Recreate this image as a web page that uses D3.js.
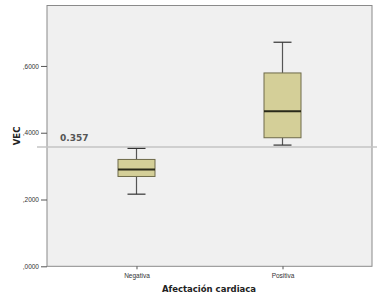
<!DOCTYPE html>
<html><head><meta charset="utf-8">
<script src="https://cdn.jsdelivr.net/npm/d3@7"></script>
<style>body{margin:0;background:#fff}svg{display:block}</style>
</head><body>
<svg id="c" width="379" height="304"></svg>
<script>
const categories = ["Negativa", "Positiva"];
const whiskerLow = [0.216, 0.363];
const q1 = [0.269, 0.385];
const median = [0.290, 0.464];
const q3 = [0.320, 0.579];
const whiskerHigh = [0.353, 0.671];
const yTicks = [0, 0.2, 0.4, 0.6];
const refValue = 0.357;
const refLabel = "0.357";
const xTitle = "Afectación cardiaca";
const yTitle = "VEC";

const L = 47, R = 372, T = 5.5, B = 266.3;
const svg = d3.select("#c");
const x = d3.scalePoint().domain(categories).range([L, R]).padding(0.613);
const y = d3.scaleLinear().domain([0, 0.781]).range([B, T]);

svg.append("rect").attr("x", L).attr("y", T).attr("width", R - L).attr("height", B - T)
  .attr("fill", "#f0f0f0").attr("stroke", "#8a8a8a").attr("stroke-width", 1);

// reference line
svg.append("line").attr("x1", 37).attr("x2", 377).attr("y1", y(refValue)).attr("y2", y(refValue))
  .attr("stroke", "#c4c4c4").attr("stroke-width", 1.5);
svg.append("text").attr("x", 60).attr("y", y(refValue) - 6).text(refLabel)
  .attr("font-family", "DejaVu Sans, sans-serif").attr("font-size", 9).attr("font-weight", "bold").attr("fill", "#555");

// y axis
const ya = svg.append("g").attr("transform", `translate(${L},0)`)
  .call(d3.axisLeft(y).tickValues(yTicks).tickSize(6).tickFormat(d => "," + d3.format(".4f")(d).split(".")[1]));
ya.select(".domain").remove();
ya.selectAll("line").attr("stroke", "#555");
ya.selectAll("text").attr("font-family", "Liberation Sans, Arial, sans-serif").attr("font-size", 6.5).attr("fill", "#333").attr("dx", 1);

// x axis
const xa = svg.append("g").attr("transform", `translate(0,${B})`)
  .call(d3.axisBottom(x).tickSize(3));
xa.select(".domain").remove();
xa.selectAll("line").attr("stroke", "#555");
xa.selectAll("text").attr("font-family", "Liberation Sans, Arial, sans-serif").attr("font-size", 6.5).attr("fill", "#333").attr("dy", "0.85em");

// boxes
const bw = 37, cw = 18;
categories.forEach((c, i) => {
  const cx = x(c);
  const g = svg.append("g");
  g.append("line").attr("x1", cx).attr("x2", cx).attr("y1", y(whiskerHigh[i])).attr("y2", y(q3[i])).attr("stroke", "#555").attr("stroke-width", 1.2);
  g.append("line").attr("x1", cx).attr("x2", cx).attr("y1", y(q1[i])).attr("y2", y(whiskerLow[i])).attr("stroke", "#555").attr("stroke-width", 1.2);
  g.append("line").attr("x1", cx - cw/2).attr("x2", cx + cw/2).attr("y1", y(whiskerHigh[i])).attr("y2", y(whiskerHigh[i])).attr("stroke", "#333").attr("stroke-width", 1.2);
  g.append("line").attr("x1", cx - cw/2).attr("x2", cx + cw/2).attr("y1", y(whiskerLow[i])).attr("y2", y(whiskerLow[i])).attr("stroke", "#333").attr("stroke-width", 1.2);
  g.append("rect").attr("x", cx - bw/2).attr("width", bw).attr("y", y(q3[i])).attr("height", y(q1[i]) - y(q3[i]))
    .attr("fill", "#d4cf98").attr("stroke", "#6e6a4a").attr("stroke-width", 1);
  g.append("line").attr("x1", cx - bw/2).attr("x2", cx + bw/2).attr("y1", y(median[i])).attr("y2", y(median[i])).attr("stroke", "#2a2a1a").attr("stroke-width", 2);
});

// titles
svg.append("text").attr("x", 209).attr("y", 292).attr("text-anchor", "middle").text(xTitle)
  .attr("font-family", "DejaVu Sans, sans-serif").attr("font-size", 8.5).attr("font-weight", "bold").attr("fill", "#222");
svg.append("text").attr("transform", `translate(20,${(T + B)/2}) rotate(-90)`).attr("text-anchor", "middle").text(yTitle)
  .attr("font-family", "DejaVu Sans, sans-serif").attr("font-size", 8.5).attr("font-weight", "bold").attr("fill", "#222");
</script>
</body></html>
